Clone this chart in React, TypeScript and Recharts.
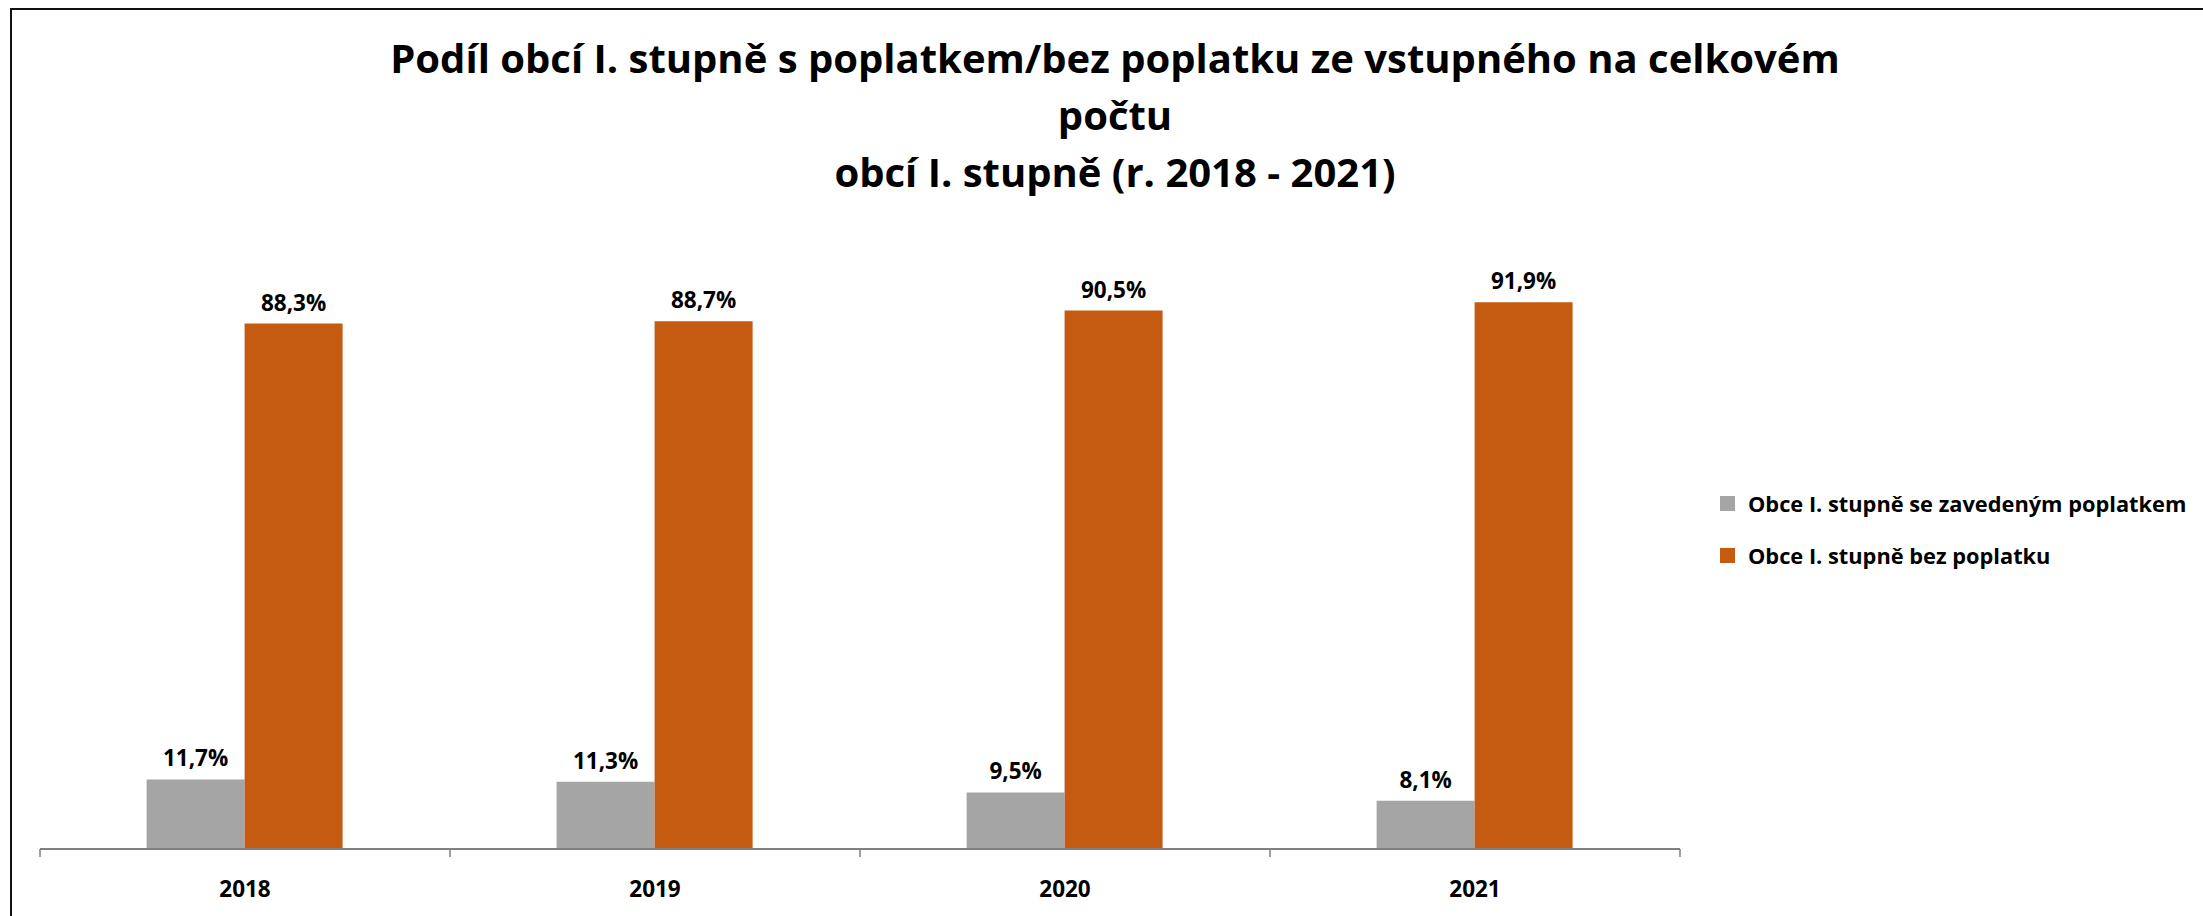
import React from 'react';
import { BarChart, Bar, XAxis, YAxis, LabelList } from 'recharts';

const categories = ['2018', '2019', '2020', '2021'];
const withFee = [11.7, 11.3, 9.5, 8.1];
const withoutFee = [88.3, 88.7, 90.5, 91.9];
const seriesNames = ['Obce I. stupně se zavedeným poplatkem', 'Obce I. stupně bez poplatku'];
const seriesColors = ['#A5A5A5', '#C55A11'];
const titleLines = [
  'Podíl obcí I. stupně s poplatkem/bez poplatku ze vstupného na celkovém',
  'počtu',
  'obcí I. stupně (r. 2018 - 2021)',
];

const data = categories.map((c, i) => ({ year: c, a: withFee[i], b: withoutFee[i] }));
const keys = ['a', 'b'];

const FONT = "'Open Sans', sans-serif";
const fmt = (v: any) => `${Number(v).toFixed(1).replace('.', ',')}%`;

const CHART_W = 2203;
const CHART_H = 916;
const MARGIN = { top: 254, right: 523, bottom: 7, left: 40 };

const AxisTick = (props: any) => {
  const { x, y, payload, index } = props;
  const half = payload && payload.offset ? payload.offset : (CHART_W - MARGIN.left - MARGIN.right) / categories.length / 2;
  return (
    <g>
      <line x1={x - half} x2={x - half} y1={y} y2={y + 8} stroke="#808080" strokeWidth={1.5} />
      {index === categories.length - 1 && (
        <line x1={x + half} x2={x + half} y1={y} y2={y + 8} stroke="#808080" strokeWidth={1.5} />
      )}
      <text x={x} y={y + 48} textAnchor="middle" fontFamily={FONT} fontWeight={700} fontSize={22.5} fill="#000">
        {payload.value}
      </text>
    </g>
  );
};

export default function App() {
  return (
    <div style={{ position: 'fixed', left: 0, top: 0, width: CHART_W, height: CHART_H, overflow: 'hidden', background: '#fff' }}>
      <div style={{ position: 'absolute', left: 10, top: 8, width: 2400, height: 1200, border: '2px solid #111', boxSizing: 'border-box' }} />
      <div
        style={{
          position: 'absolute',
          left: 115,
          top: 29,
          width: 2000,
          textAlign: 'center',
          fontFamily: FONT,
          fontWeight: 700,
          fontSize: 40,
          lineHeight: '57px',
          color: '#000',
        }}
      >
        {titleLines.map((t, i) => (
          <div key={i}>{t}</div>
        ))}
      </div>
      <div style={{ position: 'absolute', left: 0, top: 0 }}>
        <BarChart width={CHART_W} height={CHART_H} data={data} margin={MARGIN} barCategoryGap="26%" barGap={0}>
          <YAxis hide domain={[0, 100]} />
          <XAxis
            dataKey="year"
            height={60}
            axisLine={{ stroke: '#808080', strokeWidth: 2 }}
            tickLine={false}
            tickSize={0}
            tickMargin={0}
            tick={<AxisTick />}
            interval={0}
          />
          {keys.map((k, i) => (
            <Bar key={k} dataKey={k} name={seriesNames[i]} fill={seriesColors[i]} isAnimationActive={false}>
              <LabelList
                dataKey={k}
                position="top"
                offset={13}
                formatter={fmt}
                fill="#000"
                fontFamily={FONT}
                fontWeight={700}
                fontSize={22.5}
              />
            </Bar>
          ))}
        </BarChart>
      </div>
      <div style={{ position: 'absolute', left: 1720, top: 485, fontFamily: FONT, fontWeight: 700, fontSize: 21.8, color: '#000' }}>
        {seriesNames.map((n, i) => (
          <div key={n} style={{ display: 'flex', alignItems: 'center', height: 36, marginBottom: i === 0 ? 16 : 0, whiteSpace: 'nowrap' }}>
            <span style={{ display: 'inline-block', width: 15, height: 15, background: seriesColors[i], marginRight: 13 }} />
            <span>{n}</span>
          </div>
        ))}
      </div>
    </div>
  );
}
